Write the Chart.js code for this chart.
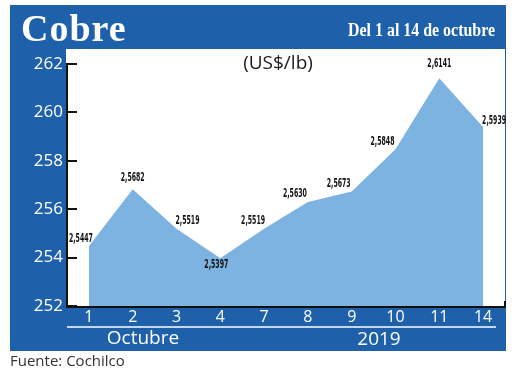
<!DOCTYPE html>
<html>
<head>
<meta charset="utf-8">
<script src="https://cdn.jsdelivr.net/npm/chart.js@4"></script>
<style>
html,body{margin:0;padding:0;background:#fff;}
#wrap{width:520px;height:374px;position:relative;}
</style>
</head>
<body>
<div id="wrap"><canvas id="c" width="520" height="374"></canvas></div>
<script>
const categories = ["1","2","3","4","7","8","9","10","11","14"];
const prices = [254.47, 256.82, 255.19, 253.97, 255.19, 256.30, 256.73, 258.48, 261.41, 259.39];
const priceLabels = ["2,5447","2,5682","2,5519","2,5397","2,5519","2,5630","2,5673","2,5848","2,6141","2,5939"];
const yTicks = [252, 254, 256, 258, 260, 262];

const BLUE = '#1e61aa';
const FILL = '#7cb3e0';

// label placement (style only): [dx, dy, align]
const labelPlace = [
  [-8, -7, 'center'], [0, -11, 'center'], [11, -8, 'center'], [-4, 7, 'center'],
  [-11, -8, 'center'], [-13, -8, 'center'], [-13, -8, 'center'], [-13, -7, 'center'],
  [0, -14, 'center'], [11, -6, 'center']
];

const framePlugin = {
  id: 'frame',
  beforeDraw(chart) {
    const ctx = chart.ctx;
    const a = chart.chartArea;
    ctx.save();
    ctx.fillStyle = '#fff';
    ctx.fillRect(0, 0, 520, 374);
    ctx.fillStyle = BLUE;
    ctx.fillRect(10, 5, 496, 346);
    ctx.fillStyle = '#fff';
    ctx.fillRect(66, 49, a.right - 66, a.bottom - 49);
    // header texts
    ctx.fillStyle = '#fff';
    ctx.textBaseline = 'alphabetic';
    ctx.font = 'bold 38px "Liberation Serif", serif';
    ctx.textAlign = 'left';
    ctx.letterSpacing = '1px';
    ctx.fillText('Cobre', 21, 41);
    ctx.letterSpacing = '0px';
    ctx.font = 'bold 18px "Liberation Serif", serif';
    ctx.textAlign = 'right';
    ctx.fillText('Del 1 al 14 de octubre', 495, 36, 147);
    // unit
    ctx.fillStyle = '#1a1a1a';
    ctx.font = '19px "Open Sans", sans-serif';
    ctx.textAlign = 'center';
    ctx.fillText('(US$/lb)', 278, 69);
    // source
    ctx.fillStyle = '#333';
    ctx.font = '15px "Open Sans", sans-serif';
    ctx.textAlign = 'left';
    ctx.fillText('Fuente: Cochilco', 10, 366);
    ctx.restore();
  },
  afterDatasetsDraw(chart) {
    const ctx = chart.ctx;
    const a = chart.chartArea;
    const ys = chart.scales.y;
    ctx.save();
    // axes
    ctx.strokeStyle = '#111';
    ctx.lineWidth = 2;
    ctx.beginPath();
    ctx.moveTo(67, ys.getPixelForValue(262) - 1);
    ctx.lineTo(67, a.bottom + 1);
    ctx.lineTo(a.right, a.bottom + 1);
    ctx.lineTo(a.right, a.bottom - 5);
    ctx.stroke();
    yTicks.forEach(v => {
      const y = Math.round(ys.getPixelForValue(v));
      ctx.beginPath();
      ctx.moveTo(67, y);
      ctx.lineTo(77, y);
      ctx.stroke();
    });
    // under line of x labels
    ctx.strokeStyle = '#fff';
    ctx.lineWidth = 1.5;
    ctx.beginPath();
    ctx.moveTo(67, 327);
    ctx.lineTo(496, 327);
    ctx.stroke();
    // group labels
    ctx.fillStyle = '#fff';
    ctx.font = '19px "Open Sans", sans-serif';
    ctx.textAlign = 'center';
    ctx.textBaseline = 'middle';
    ctx.fillText('Octubre', 143, 339);
    ctx.fillText('2019', 379, 340);
    // value labels
    ctx.fillStyle = '#111';
    ctx.font = 'bold 12px "Liberation Sans Narrow", "DejaVu Sans Condensed", sans-serif';
    const meta = chart.getDatasetMeta(0);
    meta.data.forEach((pt, i) => {
      const p = labelPlace[i];
      ctx.textAlign = p[2];
      ctx.fillText(priceLabels[i], pt.x + p[0], pt.y + p[1], 24);
    });
    ctx.restore();
  }
};

new Chart(document.getElementById('c'), {
  type: 'line',
  data: {
    labels: categories,
    datasets: [{
      data: prices,
      fill: 'start',
      backgroundColor: FILL,
      borderWidth: 0,
      borderColor: FILL,
      pointRadius: 0,
      tension: 0
    }]
  },
  options: {
    responsive: false,
    animation: false,
    events: [],
    layout: { padding: { left: 0, right: 15, top: 64, bottom: 0 } },
    plugins: { legend: { display: false }, tooltip: { enabled: false } },
    scales: {
      x: {
        offset: true,
        grid: { display: false, drawTicks: false },
        border: { display: false },
        ticks: { color: '#fff', font: { family: '"Open Sans", sans-serif', size: 16 }, padding: 2, maxRotation: 0, autoSkip: false },
        afterFit(s) { s.height = 68; }
      },
      y: {
        min: 252, max: 262,
        afterBuildTicks(s) { s.ticks = yTicks.map(v => ({ value: v })); },
        grid: { display: false, drawTicks: false },
        border: { display: false },
        ticks: { color: '#fff', font: { family: '"Open Sans", sans-serif', size: 17 }, padding: 4 },
        afterFit(s) { s.width = 67; }
      }
    }
  },
  plugins: [framePlugin]
});
</script>
</body>
</html>
